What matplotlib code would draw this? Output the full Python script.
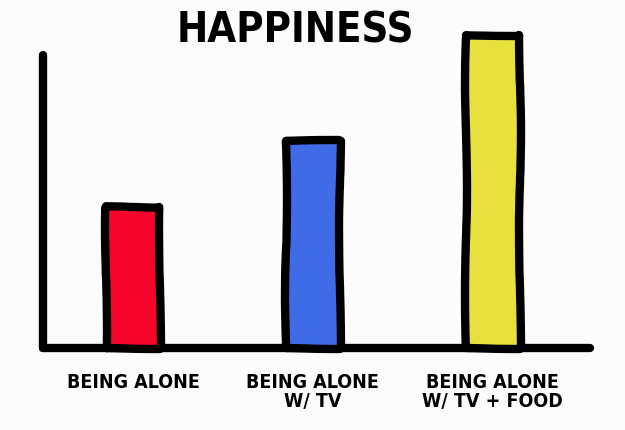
import matplotlib
matplotlib.use("Agg")
import matplotlib.pyplot as plt

# Datos (alturas relativas)
categories = ["BEING ALONE", "BEING ALONE\nW/ TV", "BEING ALONE\nW/ TV + FOOD"]
happiness = [45, 66, 100]
colors = ["#f5052a", "#3f6be6", "#e8e03c"]

FONT = ["DejaVu Sans"]

fig = plt.figure(figsize=(6.25, 4.3), dpi=100)
fig.patch.set_facecolor("#fcfcfc")
ax = fig.add_axes([0.0688, 0.1907, 0.875, 0.728])
ax.set_facecolor("#fcfcfc")

x = range(len(categories))
bars = ax.bar(x, happiness, width=0.3, color=colors, edgecolor="black",
              linewidth=6, joinstyle="round", clip_on=False, zorder=3)
# trazo "a mano", ligero temblor
for b in bars:
    b.set_sketch_params(scale=1.0, length=300, randomness=4)

ax.set_xlim(-0.5, 2.54)
ax.set_ylim(0, 100)

for side in ("top", "right"):
    ax.spines[side].set_visible(False)
for side in ("left", "bottom"):
    ax.spines[side].set_linewidth(6)
    ax.spines[side].set_color("black")
    ax.spines[side].set_capstyle("round")
ax.spines["left"].set_bounds(0, 93.5)
ax.set_yticks([])
ax.set_xticks(list(x))
ax.set_xticklabels(categories, fontfamily=FONT, fontweight="bold",
                   fontstretch="condensed", fontsize=14, linespacing=1.0,
                   va="top")
ax.tick_params(axis="x", length=0, pad=18)

fig.text(0.472, 0.928, "HAPPINESS", ha="center", va="center",
         fontfamily=FONT, fontweight="bold", fontstretch="condensed",
         fontsize=30)

fig.savefig("out.png", dpi=100, facecolor=fig.get_facecolor())
